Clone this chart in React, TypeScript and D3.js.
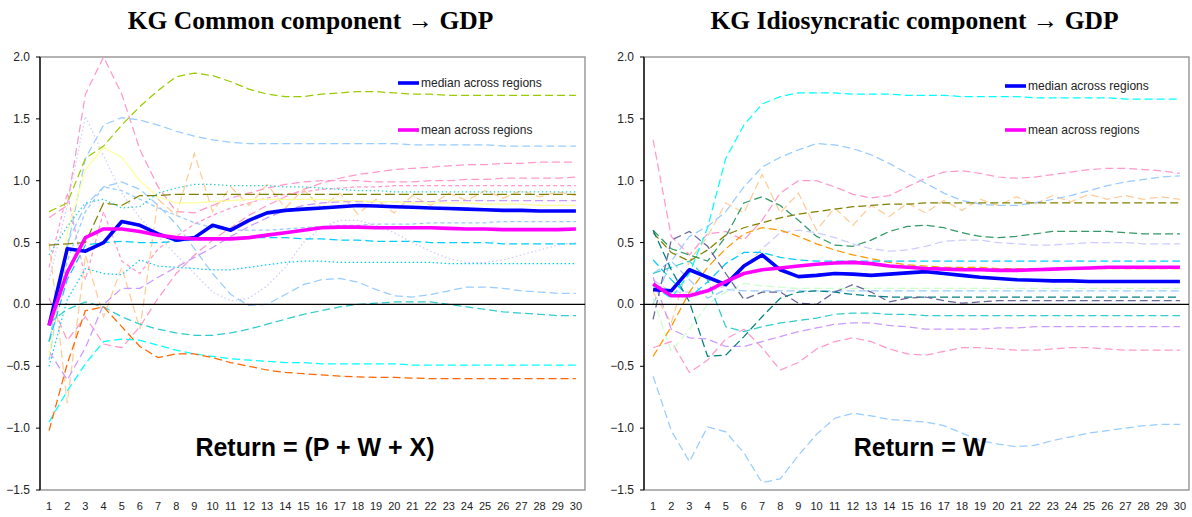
import * as d3 from 'd3';

// horizon (quarters after the shock)
const periods = d3.range(1, 31);
const yTicks = [-1.5, -1.0, -0.5, 0.0, 0.5, 1.0, 1.5, 2.0];

// ---- KG common component -> GDP (individual regions) ----
const cYellowGreen = [0.75,0.82,1.18,1.28,1.45,1.60,1.73,1.84,1.87,1.85,1.80,1.74,1.70,1.68,1.68,1.70,1.71,1.72,1.72,1.71,1.70,1.70,1.69,1.69,1.69,1.69,1.69,1.69,1.69,1.69];
const cBluePeak = [-0.30,0.45,1.18,1.45,1.51,1.49,1.45,1.40,1.36,1.33,1.31,1.30,1.30,1.30,1.30,1.30,1.30,1.30,1.30,1.30,1.29,1.29,1.29,1.29,1.29,1.28,1.28,1.28,1.28,1.28];
const cPinkPeak = [0.70,0.80,1.70,2.00,1.70,1.25,0.95,0.75,0.74,0.80,0.86,0.90,0.94,0.97,0.99,1.00,1.00,1.00,0.99,0.99,0.99,1.00,1.00,1.01,1.01,1.02,1.02,1.02,1.02,1.03];
const cPinkRise = [0.05,-0.29,-0.10,-0.32,-0.35,-0.18,0.05,0.25,0.40,0.52,0.62,0.72,0.80,0.87,0.93,0.98,1.02,1.05,1.07,1.09,1.10,1.11,1.12,1.13,1.13,1.14,1.14,1.15,1.15,1.15];
const cPinkMid = [0.30,0.90,0.20,0.75,0.35,0.25,0.45,0.55,0.65,0.72,0.78,0.82,0.86,0.89,0.91,0.93,0.94,0.95,0.95,0.96,0.96,0.96,0.96,0.96,0.96,0.96,0.96,0.96,0.96,0.96];
const cYellow = [-0.42,0.58,1.09,1.27,1.19,1.00,0.87,0.82,0.82,0.83,0.84,0.85,0.85,0.85,0.85,0.85,0.84,0.84,0.83,0.83,0.82,0.82,0.82,0.82,0.81,0.81,0.81,0.80,0.80,0.80];
const cOlive = [0.48,0.49,0.50,0.82,0.80,0.88,0.88,0.89,0.89,0.89,0.89,0.89,0.89,0.89,0.89,0.89,0.89,0.89,0.89,0.89,0.89,0.89,0.89,0.89,0.89,0.89,0.89,0.89,0.89,0.89];
const cTurqDot = [0.40,0.63,0.82,0.85,0.78,0.79,0.90,0.94,0.97,0.97,0.96,0.96,0.96,0.95,0.95,0.94,0.93,0.92,0.92,0.91,0.91,0.91,0.91,0.91,0.91,0.91,0.91,0.91,0.91,0.91];
const cCyanDot = [-0.50,0.04,0.29,0.25,0.24,0.36,0.31,0.30,0.29,0.28,0.28,0.30,0.32,0.34,0.35,0.35,0.34,0.34,0.34,0.34,0.34,0.34,0.33,0.33,0.33,0.33,0.33,0.33,0.33,0.33];
const cCyanDash = [-0.30,0.20,0.48,0.50,0.51,0.50,0.50,0.51,0.52,0.53,0.54,0.54,0.54,0.54,0.53,0.53,0.52,0.52,0.51,0.51,0.51,0.50,0.50,0.50,0.50,0.49,0.49,0.49,0.49,0.49];
const cLavDot = [0.20,0.80,1.52,1.20,0.90,0.70,0.55,0.40,0.25,0.10,0.03,0.05,0.15,0.30,0.50,0.62,0.68,0.68,0.64,0.58,0.50,0.43,0.37,0.34,0.34,0.36,0.40,0.44,0.48,0.50];
const cBlueDip = [-0.45,0.50,0.80,0.95,0.99,0.93,0.80,0.65,0.45,0.25,0.08,-0.01,0.00,0.08,0.16,0.20,0.21,0.18,0.12,0.07,0.06,0.08,0.11,0.14,0.14,0.13,0.11,0.10,0.09,0.09];
const cBlueMid = [-0.30,0.35,0.75,0.95,0.92,0.85,0.78,0.72,0.66,0.62,0.60,0.60,0.60,0.61,0.62,0.63,0.64,0.64,0.65,0.65,0.65,0.66,0.66,0.66,0.66,0.67,0.67,0.67,0.67,0.67];
const cPeach = [0.50,-0.80,0.40,-0.10,0.30,-0.20,0.85,0.72,1.22,0.75,0.95,0.80,0.97,0.78,0.93,0.78,0.90,0.73,0.85,0.74,0.88,0.80,0.90,0.84,0.92,0.86,0.92,0.87,0.91,0.88];
const cLavender = [-0.38,-0.61,-0.35,0.00,0.13,0.13,0.22,0.30,0.38,0.46,0.55,0.63,0.70,0.76,0.80,0.82,0.83,0.83,0.83,0.83,0.83,0.83,0.84,0.84,0.84,0.84,0.84,0.84,0.84,0.84];
const cTurq = [-0.15,-0.04,0.02,-0.02,-0.10,-0.16,-0.20,-0.23,-0.25,-0.25,-0.23,-0.20,-0.16,-0.12,-0.08,-0.05,-0.02,0.00,0.01,0.02,0.02,0.02,0.00,-0.02,-0.04,-0.06,-0.07,-0.08,-0.09,-0.09];
const cAqua = [-0.95,-0.70,-0.48,-0.30,-0.28,-0.29,-0.33,-0.37,-0.40,-0.42,-0.44,-0.45,-0.46,-0.47,-0.47,-0.48,-0.48,-0.48,-0.48,-0.48,-0.49,-0.49,-0.49,-0.49,-0.49,-0.49,-0.49,-0.49,-0.49,-0.49];
const cOrange = [-1.02,-0.48,-0.05,-0.02,-0.18,-0.34,-0.43,-0.40,-0.40,-0.43,-0.47,-0.50,-0.53,-0.55,-0.56,-0.57,-0.58,-0.585,-0.59,-0.59,-0.595,-0.60,-0.60,-0.60,-0.60,-0.60,-0.60,-0.60,-0.60,-0.60];
const cMedian = [-0.17,0.45,0.43,0.50,0.67,0.64,0.57,0.52,0.54,0.64,0.60,0.68,0.74,0.76,0.77,0.78,0.79,0.80,0.795,0.79,0.785,0.78,0.775,0.77,0.765,0.76,0.76,0.755,0.755,0.755];
const cMean = [-0.17,0.26,0.54,0.61,0.61,0.59,0.56,0.54,0.53,0.53,0.53,0.54,0.56,0.58,0.60,0.62,0.625,0.625,0.62,0.62,0.62,0.62,0.615,0.61,0.61,0.605,0.605,0.605,0.605,0.61];

// ---- KG idiosyncratic component -> GDP (individual regions) ----
const iCyan = [0.15,0.05,0.25,0.62,1.18,1.45,1.62,1.68,1.71,1.71,1.71,1.70,1.70,1.70,1.69,1.69,1.69,1.68,1.68,1.68,1.68,1.67,1.67,1.67,1.67,1.67,1.66,1.66,1.66,1.66];
const iBlue = [0.25,0.35,0.55,0.63,0.75,0.95,1.11,1.19,1.25,1.30,1.29,1.26,1.21,1.14,1.06,0.98,0.90,0.84,0.81,0.80,0.80,0.82,0.85,0.88,0.92,0.96,0.99,1.01,1.03,1.04];
const iPink = [1.33,0.55,0.40,0.57,0.59,0.52,0.68,0.90,1.00,1.00,0.95,0.89,0.86,0.88,0.95,1.02,1.07,1.08,1.06,1.03,1.02,1.03,1.05,1.07,1.09,1.10,1.10,1.09,1.08,1.06];
const iPeach = [0.10,-0.15,0.35,0.55,0.82,0.74,1.05,0.74,0.90,0.60,0.78,0.64,0.80,0.71,0.82,0.74,0.84,0.76,0.85,0.80,0.87,0.81,0.88,0.83,0.89,0.85,0.88,0.85,0.87,0.85];
const iOlive = [0.58,0.42,0.35,0.44,0.56,0.62,0.66,0.70,0.73,0.75,0.77,0.79,0.80,0.81,0.81,0.82,0.82,0.82,0.82,0.82,0.82,0.82,0.82,0.82,0.82,0.82,0.82,0.82,0.82,0.82];
const iGreen = [0.60,0.45,0.40,0.35,0.55,0.82,0.87,0.80,0.68,0.55,0.48,0.47,0.52,0.59,0.63,0.64,0.62,0.58,0.55,0.54,0.55,0.57,0.59,0.59,0.59,0.59,0.58,0.57,0.57,0.57];
const iOrange = [-0.42,-0.18,0.10,0.30,0.45,0.57,0.62,0.60,0.55,0.49,0.44,0.40,0.37,0.34,0.32,0.31,0.30,0.30,0.30,0.29,0.29,0.29,0.29,0.29,0.29,0.29,0.29,0.29,0.29,0.29];
const iLavLight = [0.20,0.10,0.10,0.10,0.15,0.30,0.45,0.58,0.60,0.58,0.54,0.49,0.45,0.43,0.44,0.47,0.51,0.52,0.52,0.50,0.49,0.48,0.48,0.49,0.50,0.50,0.50,0.49,0.49,0.49];
const iCyanDash = [0.36,0.20,0.06,0.18,0.33,0.42,0.42,0.38,0.36,0.35,0.35,0.35,0.35,0.35,0.35,0.35,0.35,0.35,0.35,0.35,0.35,0.35,0.35,0.35,0.35,0.35,0.35,0.35,0.35,0.35];
const iSlate = [-0.12,0.52,0.59,0.47,0.25,0.04,0.10,0.10,0.01,0.00,0.10,0.16,0.10,0.02,0.05,0.06,0.03,0.01,0.02,0.03,0.03,0.03,0.03,0.03,0.03,0.03,0.03,0.03,0.03,0.03];
const iTeal = [0.60,0.28,0.02,-0.42,-0.41,-0.26,-0.10,0.05,0.10,0.11,0.10,0.08,0.07,0.06,0.06,0.06,0.06,0.06,0.06,0.06,0.06,0.06,0.06,0.06,0.06,0.06,0.06,0.06,0.06,0.06];
const iTurq = [0.25,0.30,0.35,0.20,-0.18,-0.22,-0.18,-0.15,-0.13,-0.11,-0.08,-0.07,-0.07,-0.08,-0.08,-0.09,-0.09,-0.09,-0.09,-0.09,-0.09,-0.09,-0.09,-0.09,-0.09,-0.09,-0.09,-0.09,-0.09,-0.09];
const iLavender = [0.22,-0.20,-0.27,-0.28,-0.34,-0.34,-0.30,-0.26,-0.22,-0.19,-0.16,-0.15,-0.15,-0.17,-0.18,-0.20,-0.20,-0.20,-0.20,-0.19,-0.19,-0.18,-0.18,-0.18,-0.18,-0.18,-0.18,-0.18,-0.18,-0.18];
const iPinkLow = [-0.35,-0.30,-0.55,-0.45,-0.28,-0.20,-0.35,-0.53,-0.47,-0.36,-0.30,-0.27,-0.30,-0.36,-0.40,-0.41,-0.38,-0.35,-0.35,-0.36,-0.37,-0.37,-0.36,-0.35,-0.35,-0.36,-0.37,-0.37,-0.37,-0.37];
const iLightGreen = [0.05,-0.38,-0.20,0.00,0.10,0.17,0.15,0.14,0.13,0.13,0.13,0.13,0.13,0.13,0.13,0.13,0.13,0.13,0.13,0.13,0.13,0.13,0.13,0.13,0.13,0.13,0.13,0.13,0.13,0.13];
const iBlueLow = [-0.58,-1.02,-1.27,-0.99,-1.03,-1.20,-1.44,-1.41,-1.22,-1.05,-0.92,-0.88,-0.90,-0.93,-0.94,-0.95,-0.98,-1.04,-1.10,-1.13,-1.15,-1.14,-1.10,-1.07,-1.04,-1.02,-1.00,-0.98,-0.97,-0.97];
const iBlueFlat = [0.00,0.35,0.20,0.05,0.12,0.11,0.11,0.11,0.11,0.11,0.11,0.11,0.11,0.11,0.11,0.11,0.11,0.11,0.11,0.11,0.11,0.11,0.11,0.11,0.11,0.11,0.11,0.11,0.11,0.11];
const iMedian = [0.12,0.11,0.28,0.22,0.16,0.31,0.40,0.28,0.225,0.235,0.25,0.245,0.235,0.245,0.255,0.265,0.25,0.235,0.22,0.21,0.20,0.195,0.19,0.19,0.185,0.185,0.185,0.185,0.185,0.185];
const iMean = [0.165,0.07,0.07,0.11,0.185,0.25,0.28,0.295,0.31,0.325,0.335,0.34,0.33,0.31,0.30,0.29,0.285,0.28,0.28,0.275,0.275,0.28,0.285,0.29,0.295,0.30,0.30,0.30,0.30,0.30];

const LONG = '8,4';
const SHORT = '4,3';
const DOT = '1.5,2.5';

const commonLines = [
  { v: cPinkPeak, c: '#ff99cc', d: LONG },
  { v: cPinkRise, c: '#ff99cc', d: LONG },
  { v: cPinkMid, c: '#ff99cc', d: SHORT },
  { v: cPeach, c: '#ffcc99', d: LONG },
  { v: cBluePeak, c: '#99ccff', d: LONG },
  { v: cBlueDip, c: '#99ccff', d: LONG },
  { v: cBlueMid, c: '#99ccff', d: SHORT },
  { v: cLavDot, c: '#ccccff', d: DOT },
  { v: cLavender, c: '#cc99ff', d: LONG },
  { v: cYellow, c: '#ffff99', d: '' },
  { v: cYellowGreen, c: '#99cc00', d: LONG },
  { v: cOlive, c: '#808000', d: '10,4' },
  { v: cTurqDot, c: '#33cccc', d: DOT },
  { v: cCyanDot, c: '#00ccff', d: DOT },
  { v: cCyanDash, c: '#00ccff', d: LONG },
  { v: cTurq, c: '#33cccc', d: LONG },
  { v: cAqua, c: '#00ffff', d: LONG },
  { v: cOrange, c: '#ff6600', d: LONG },
];

const idioLines = [
  { v: iPink, c: '#ff99cc', d: LONG },
  { v: iPinkLow, c: '#ff99cc', d: LONG },
  { v: iPeach, c: '#ffcc99', d: LONG },
  { v: iBlue, c: '#99ccff', d: LONG },
  { v: iBlueLow, c: '#99ccff', d: LONG },
  { v: iBlueFlat, c: '#99ccff', d: LONG },
  { v: iLightGreen, c: '#ccffcc', d: LONG },
  { v: iLavLight, c: '#ccccff', d: LONG },
  { v: iLavender, c: '#cc99ff', d: LONG },
  { v: iOlive, c: '#808000', d: LONG },
  { v: iGreen, c: '#339966', d: LONG },
  { v: iOrange, c: '#ff9900', d: LONG },
  { v: iCyanDash, c: '#00ccff', d: LONG },
  { v: iTurq, c: '#33cccc', d: LONG },
  { v: iTeal, c: '#008080', d: LONG },
  { v: iSlate, c: '#666699', d: LONG },
  { v: iCyan, c: '#00ffff', d: LONG },
];

const SANS = 'Arial, "Liberation Sans", sans-serif';

type PanelProps = {
  x0: number; x1: number;
  title: string; label: string; labelX: number;
  lines: { v: number[]; c: string; d: string }[];
  median: number[]; mean: number[];
  legX: number; legY1: number; legY2: number;
};

function Panel({ x0, x1, title, label, labelX, lines, median, mean, legX, legY1, legY2 }: PanelProps) {
  const top = 57, bottom = 490;
  const x = d3.scaleBand<number>().domain(periods).range([x0, x1]);
  const cx = (p: number) => (x(p) as number) + x.bandwidth() / 2;
  const y = d3.scaleLinear().domain([-1.5, 2]).range([bottom, top]);
  const line = d3.line<number>().x((_, i) => cx(periods[i])).y(d => y(d));

  return (
    <g>
      <text x={(x0 + x1) / 2 - 2} y={29} textAnchor="middle" fontFamily='"Liberation Serif", serif'
        fontWeight="bold" fontSize={25.5}>{title}</text>
      <rect x={x0} y={top} width={x1 - x0} height={bottom - top} fill="#fff" stroke="#8c8c8c" strokeWidth={1.3} />
      {lines.map((l, i) => (
        <path key={i} d={line(l.v) || ''} fill="none" stroke={l.c} strokeWidth={1.25}
          strokeDasharray={l.d || undefined} />
      ))}
      <line x1={x0} x2={x1} y1={y(0)} y2={y(0)} stroke="#000" strokeWidth={1.2} />
      <path d={line(median) || ''} fill="none" stroke="#0000ff" strokeWidth={3.6} strokeLinejoin="round" />
      <path d={line(mean) || ''} fill="none" stroke="#ff00ff" strokeWidth={3.6} strokeLinejoin="round" />
      <line x1={x0} x2={x0} y1={top} y2={bottom} stroke="#000" strokeWidth={1.3} />
      {yTicks.map(t => (
        <g key={t}>
          <line x1={x0 - 4} x2={x0} y1={y(t)} y2={y(t)} stroke="#000" />
          <text x={x0 - 10} y={y(t) + 4} textAnchor="end" fontFamily={SANS} fontSize={12} fill="#222">
            {d3.format('.1f')(t)}
          </text>
        </g>
      ))}
      {periods.map(p => (
        <text key={p} x={cx(p)} y={510} textAnchor="middle" fontFamily={SANS} fontSize={11} fill="#222">{p}</text>
      ))}
      <line x1={legX} x2={legX + 21} y1={legY1} y2={legY1} stroke="#0000ff" strokeWidth={3.6} />
      <text x={legX + 23} y={legY1 + 4} fontFamily={SANS} fontSize={12} fill="#222">median across regions</text>
      <line x1={legX} x2={legX + 21} y1={legY2} y2={legY2} stroke="#ff00ff" strokeWidth={3.6} />
      <text x={legX + 23} y={legY2 + 4} fontFamily={SANS} fontSize={12} fill="#222">mean across regions</text>
      <text x={labelX} y={456} textAnchor="middle" fontFamily={SANS} fontWeight="bold" fontSize={25}>{label}</text>
    </g>
  );
}

export default function App() {
  return (
    <svg width={1192} height={517} style={{ position: 'absolute', left: 0, top: 0, background: '#fff' }}>
      <Panel x0={40} x1={585} title="KG Common component → GDP" label="Return = (P + W + X)" labelX={315}
        lines={commonLines} median={cMedian} mean={cMean} legX={398} legY1={83} legY2={130} />
      <Panel x0={644} x1={1189} title="KG Idiosyncratic component → GDP" label="Return = W" labelX={920}
        lines={idioLines} median={iMedian} mean={iMean} legX={1005} legY1={86} legY2={130} />
    </svg>
  );
}
